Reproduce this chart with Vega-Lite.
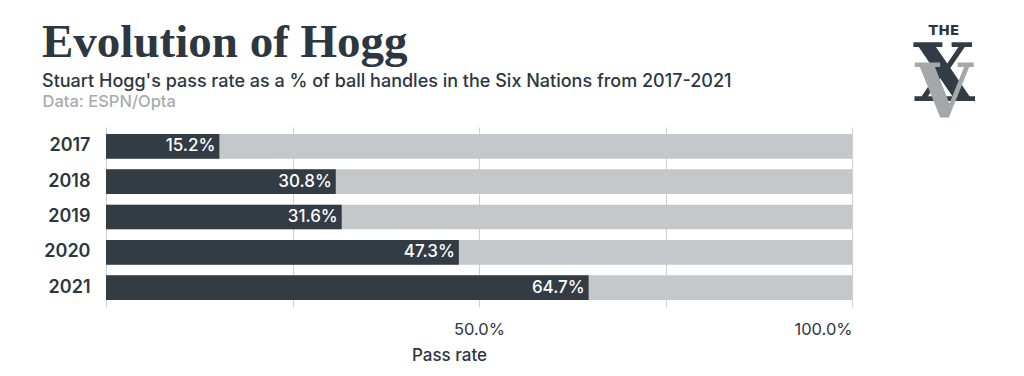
{
  "$schema": "https://vega.github.io/schema/vega-lite/v6.json",
  "background": "white",
  "padding": {"left": 42, "top": 19, "right": 0, "bottom": 0},
  "config": {"view": {"stroke": null}, "font": "Inter"},
  "spacing": 52,
  "hconcat": [
    {
      "width": 746,
      "height": 180,
      "title": {
        "text": "Evolution of Hogg",
        "font": "Liberation Serif",
        "fontSize": 47,
        "fontWeight": "bold",
        "color": "#2d3741",
        "anchor": "start",
        "frame": "bounds",
        "offset": 1,
        "subtitle": "Stuart Hogg's pass rate as a % of ball handles in the Six Nations  from 2017-2021",
        "subtitleFont": "Inter",
        "subtitleFontSize": 18,
        "subtitleFontWeight": 500,
        "subtitleColor": "#2d3741",
        "subtitlePadding": 6
      },
      "data": {
        "values": [
          {"year": "2017", "rate": 0.152, "total": 1},
          {"year": "2018", "rate": 0.308, "total": 1},
          {"year": "2019", "rate": 0.316, "total": 1},
          {"year": "2020", "rate": 0.473, "total": 1},
          {"year": "2021", "rate": 0.647, "total": 1}
        ]
      },
      "encoding": {
        "y": {
          "field": "year",
          "type": "ordinal",
          "scale": {"paddingInner": 0.3, "paddingOuter": 0.2},
          "axis": {
            "title": "Data: ESPN/Opta",
            "titleAngle": 0,
            "titleAlign": "left",
            "titleBaseline": "alphabetic",
            "titleX": -64,
            "titleY": -21,
            "titleColor": "#a7abaf",
            "titleFont": "Inter",
            "titleFontSize": 16.5,
            "titleFontWeight": 500,
            "labelFont": "Inter",
            "labelFontSize": 18,
            "labelFontWeight": 600,
            "labelColor": "#2d3741",
            "labelPadding": 16,
            "domain": false,
            "ticks": false
          }
        }
      },
      "layer": [
        {
          "mark": {"type": "bar", "color": "#c5c8cb"},
          "encoding": {
            "x": {
              "field": "total",
              "type": "quantitative",
              "scale": {"domain": [0, 1]},
              "axis": {
                "values": [0, 0.25, 0.5, 0.75, 1],
                "format": ".1%",
                "labelExpr": "datum.value == 0.5 || datum.value == 1 ? datum.label : ''",
                "grid": true,
                "gridColor": "#cfcfcf",
                "domain": false,
                "ticks": false,
                "labelFont": "Inter",
                "labelFontSize": 16.5,
                "labelColor": "#2d3741",
                "labelPadding": 14,
                "title": "Pass rate",
                "titleFont": "Inter",
                "titleFontSize": 17,
                "titleFontWeight": 500,
                "titleColor": "#2d3741",
                "titleX": 343,
                "titlePadding": 10
              }
            }
          }
        },
        {
          "mark": {"type": "bar", "color": "#333c45"},
          "encoding": {"x": {"field": "rate", "type": "quantitative"}}
        },
        {
          "mark": {"type": "text", "align": "right", "dx": -4, "color": "white", "font": "Inter", "fontSize": 17, "fontWeight": 500},
          "encoding": {
            "x": {"field": "rate", "type": "quantitative"},
            "text": {"field": "rate", "format": ".1%"}
          }
        }
      ]
    },
    {
      "width": 80,
      "height": 2,
      "layer": [
        {
          "data": {"values": [{"glyph": "THE"}]},
          "mark": {"type": "text", "font": "DejaVu Sans", "fontWeight": "bold", "fontSize": 14, "color": "#2d3741", "baseline": "alphabetic", "dy": -93},
          "encoding": {"text": {"field": "glyph"}}
        },
        {
          "data": {"values": [{"glyph": "X"}]},
          "mark": {"type": "text", "font": "DejaVu Serif", "fontWeight": "bold", "fontSize": 80, "color": "#333c45", "baseline": "alphabetic", "dy": -27},
          "encoding": {"text": {"field": "glyph"}}
        },
        {
          "data": {"values": [{"glyph": "V"}]},
          "mark": {"type": "text", "font": "DejaVu Serif", "fontWeight": "bold", "fontSize": 74, "color": "#a5a8ab", "baseline": "alphabetic", "dy": -11},
          "encoding": {"text": {"field": "glyph"}}
        }
      ]
    }
  ]
}
